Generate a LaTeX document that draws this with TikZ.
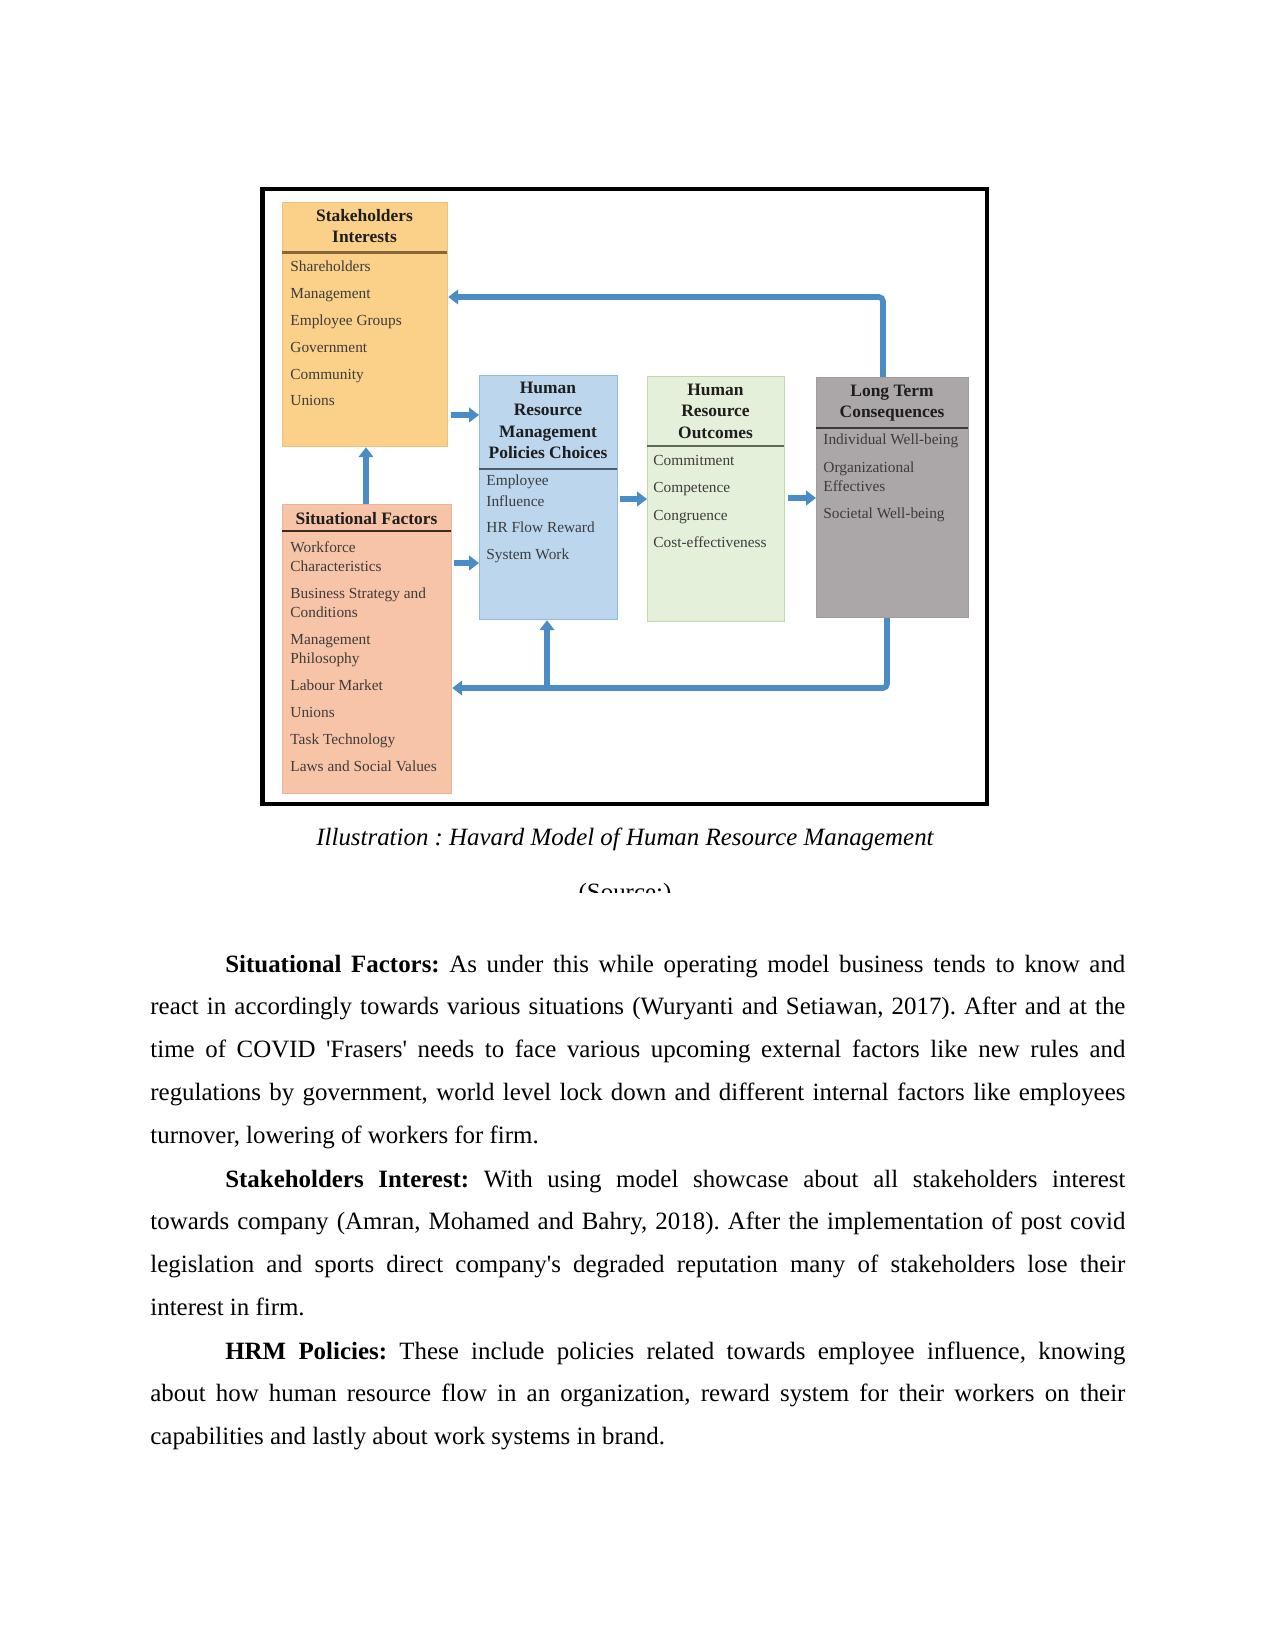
\documentclass[tikz,border=0pt]{standalone}
\usepackage{fontspec}
\setmainfont{Liberation Serif}
\usetikzlibrary{arrows.meta}
\hyphenpenalty=10000
\exhyphenpenalty=10000
\frenchspacing
\definecolor{arrowblue}{HTML}{4A8CC6}
\definecolor{stakefill}{HTML}{FBD089}
\definecolor{stakedraw}{HTML}{F0C07A}
\definecolor{stakesep}{HTML}{86673A}
\definecolor{sitfill}{HTML}{F8C4A8}
\definecolor{sitdraw}{HTML}{EAB596}
\definecolor{sitsep}{HTML}{3A2A22}
\definecolor{hrmfill}{HTML}{BCD6EE}
\definecolor{hrmdraw}{HTML}{93B9DE}
\definecolor{hrmsep}{HTML}{4E5C6A}
\definecolor{outfill}{HTML}{E5F0DA}
\definecolor{outdraw}{HTML}{BFD7AE}
\definecolor{outsep}{HTML}{5E6B55}
\definecolor{ltfill}{HTML}{ABA6A7}
\definecolor{ltdraw}{HTML}{A09B9C}
\definecolor{ltsep}{HTML}{3A3838}
\definecolor{hdrtext}{HTML}{1E1E1E}
\definecolor{itmtext}{HTML}{3C3C3C}
\def\pxu{0.4818pt}
\begin{document}
\frenchspacing
\begin{tikzpicture}[x=0.4818pt,y=-0.4818pt,
  boxshape/.style={rectangle, line width=0.6pt, inner sep=0pt, anchor=north west},
  sepline/.style={line width=1.2pt},
  hdr/.style={font=\fontsize{8.4}{10}\selectfont\bfseries, text=hdrtext, anchor=base, inner sep=0pt},
  itm/.style={font=\fontsize{7.4}{9}\selectfont, text=itmtext, anchor=base west, inner sep=0pt},
  arr/.style={draw=arrowblue, line width=2.7pt, -{Triangle[length=4.8pt,width=7pt]}},
  para/.style={text width=975*\pxu, align=justify, inner sep=0pt, anchor=base west,
    font=\fontsize{12}{20.7}\selectfont}
]
\useasboundingbox (0,0) rectangle (1275,1650);

% frame
\draw[line width=2.2pt] (262.5,189) rectangle (987,804);

% boxes
\node[boxshape, fill=stakefill, draw=stakedraw, minimum width=165*\pxu, minimum height=244*\pxu] (stake) at (282,202) {};
\node[boxshape, fill=sitfill, draw=sitdraw, minimum width=169*\pxu, minimum height=289*\pxu] (sit) at (282,504) {};
\node[boxshape, fill=hrmfill, draw=hrmdraw, minimum width=138*\pxu, minimum height=244*\pxu] (hrm) at (479,375) {};
\node[boxshape, fill=outfill, draw=outdraw, minimum width=137*\pxu, minimum height=245*\pxu] (out) at (647,376) {};
\node[boxshape, fill=ltfill, draw=ltdraw, minimum width=152*\pxu, minimum height=240*\pxu] (lt) at (816,377) {};

% separators
\draw[sepline, stakesep] (282,252.5) -- (447,252.5);
\draw[sepline, sitsep] (282,531) -- (451,531);
\draw[sepline, hrmsep] (479,469) -- (617,469);
\draw[sepline, outsep] (647,446) -- (784,446);
\draw[sepline, ltsep] (816,428) -- (968,428);

% headers
\node[hdr] (stakeh1) at (364.5,222) {Stakeholders};
\node[hdr] (stakeh2) at (364.5,243) {Interests};
\node[hdr] (sith1) at (366.5,524) {Situational Factors};
\node[hdr] (hrmh1) at (548,394) {Human};
\node[hdr] (hrmh2) at (548,416) {Resource};
\node[hdr] (hrmh3) at (548,437.5) {Management};
\node[hdr] (hrmh4) at (548,459) {Policies Choices};
\node[hdr] (outh1) at (715.5,396) {Human};
\node[hdr] (outh2) at (715.5,417) {Resource};
\node[hdr] (outh3) at (715.5,439) {Outcomes};
\node[hdr] (lth1) at (892,397) {Long Term};
\node[hdr] (lth2) at (892,418) {Consequences};

% items
\foreach \t/\y [count=\i] in {Shareholders/271.5, Management/298.4, Employee Groups/325.3, Government/352.2, Community/379.1, Unions/406}
  \node[itm] (stakei\i) at (290,\y) {\t};
\foreach \t/\y [count=\i] in {Workforce/552.5, Characteristics/571.5, Business Strategy and/598.5, Conditions/617.5, Management/644.5, Philosophy/663.5, Labour Market/690.5, Unions/717.5, Task Technology/744.5, Laws and Social Values/771.5}
  \node[itm] (siti\i) at (290,\y) {\t};
\foreach \t/\y [count=\i] in {Employee/486, Influence/506, HR Flow Reward/532, System Work/559}
  \node[itm] (hrmi\i) at (486,\y) {\t};
\foreach \t/\y [count=\i] in {Commitment/466, Competence/493, Congruence/520, Cost-effectiveness/547}
  \node[itm] (outi\i) at (653,\y) {\t};
\foreach \t/\y [count=\i] in {Individual Well-being/445, Organizational/473, Effectives/492, Societal Well-being/518}
  \node[itm] (lti\i) at (823,\y) {\t};

% connectors
\coordinate (fbt) at (883,297);
\coordinate (fbb) at (887,688);
\coordinate (brc) at (547,688);
\coordinate (ya) at (0,415);
\coordinate (yb) at (0,563);
\coordinate (yc) at (0,499);
\coordinate (yd) at (0,498);
\coordinate (xe) at (366,0);
\draw[arr, rounded corners=2pt] (lt.north -| fbt) |- (stake.east |- fbt);
\draw[arr, rounded corners=2pt] (lt.south -| fbb) |- (sit.east |- fbb);
\draw[arr] (brc) -- (hrm.south -| brc);
\draw[arr, shorten <=1.5pt] (stake.east |- ya) -- (hrm.west |- ya);
\draw[arr, shorten <=1pt] (sit.east |- yb) -- (hrm.west |- yb);
\draw[arr] (sit.north -| xe) -- (stake.south -| xe);
\draw[arr, shorten <=1pt] (hrm.east |- yc) -- (out.west |- yc);
\draw[arr, shorten <=1.5pt] (out.east |- yd) -- (lt.west |- yd);

% caption
\node[font=\fontsize{12}{14}\selectfont\itshape, anchor=base, inner sep=0pt] (cap) at (625,845) {Illustration : Havard Model of Human Resource Management};
\begin{scope}
\clip (480,860) rectangle (780,892);
\node[font=\fontsize{12}{14}\selectfont, anchor=base, inner sep=0pt] (src) at (625,900) {(Source:)};
\end{scope}

% body text
\node[para] (p1) at (150,972) {\hspace*{36.1pt}\textbf{Situational Factors:} As under this while operating model business tends to know and\linebreak
react in accordingly towards various situations (Wuryanti and Setiawan, 2017). After and at the\linebreak
time of COVID \textquotesingle Frasers\textquotesingle\ needs to face various upcoming external factors like new rules and\linebreak
regulations by government, world level lock down and different internal factors like employees\linebreak
turnover, lowering of workers for firm.};
\node[para] (p2) at (150,1187) {\hspace*{36.1pt}\textbf{Stakeholders Interest:} With using model showcase about all stakeholders interest\linebreak
towards company (Amran, Mohamed and Bahry, 2018). After the implementation of post covid\linebreak
legislation and sports direct company\textquotesingle s degraded reputation many of stakeholders lose their\linebreak
interest in firm.};
\node[para] (p3) at (150,1359) {\hspace*{36.1pt}\textbf{HRM Policies:} These include policies related towards employee influence, knowing\linebreak
about how human resource flow in an organization, reward system for their workers on their\linebreak
capabilities and lastly about work systems in brand.};
\end{tikzpicture}
\end{document}
